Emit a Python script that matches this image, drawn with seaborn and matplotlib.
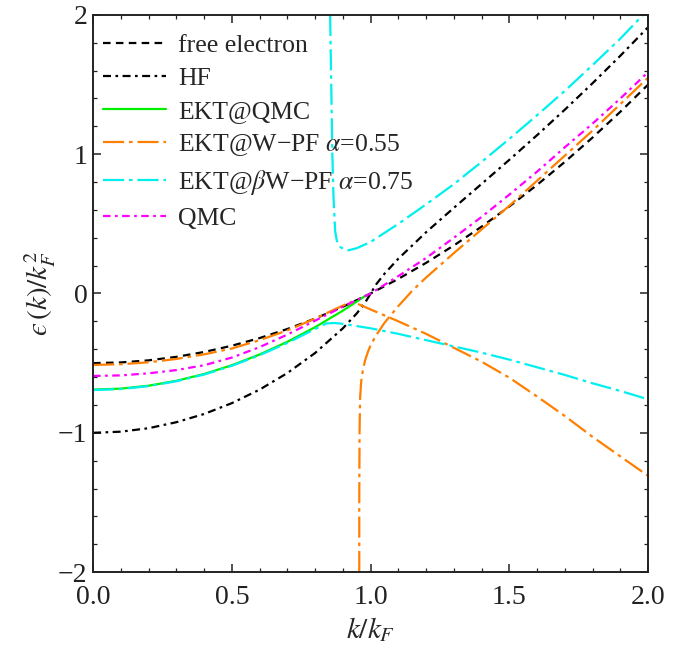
import numpy as np
import pandas as pd
import matplotlib
matplotlib.use("Agg")
import matplotlib.pyplot as plt
import seaborn as sns

# ---------------- data ----------------
k_free = [0.0, 0.1, 0.2, 0.3, 0.4, 0.5, 0.6, 0.7, 0.8, 0.9, 1.0,
          1.1, 1.2, 1.3, 1.4, 1.5, 1.6, 1.7, 1.8, 1.9, 2.0]
e_free = [-0.5, -0.495, -0.48, -0.455, -0.42, -0.375, -0.32, -0.255, -0.18, -0.095, 0.0,
          0.105, 0.22, 0.345, 0.48, 0.625, 0.78, 0.945, 1.12, 1.305, 1.5]

k_hf = [0.0, 0.1, 0.2, 0.3, 0.4, 0.5, 0.6, 0.7, 0.8, 0.9, 0.95, 0.98, 1.0,
        1.02, 1.05, 1.1, 1.2, 1.3, 1.4, 1.5, 1.6, 1.7, 1.8, 1.9, 2.0]
e_hf = [-1.0, -0.992, -0.967, -0.924, -0.865, -0.787, -0.69, -0.571, -0.427, -0.25, -0.143, -0.066, 0.0,
        0.066, 0.142, 0.25, 0.44, 0.615, 0.787, 0.96, 1.137, 1.32, 1.51, 1.707, 1.912]

k_ektqmc = [0.0, 0.1, 0.2, 0.3, 0.4, 0.5, 0.6, 0.7, 0.8, 0.9, 0.95, 0.985]
e_ektqmc = [-0.69, -0.683, -0.662, -0.627, -0.578, -0.515, -0.438, -0.347, -0.242, -0.123, -0.058, -0.011]

k_wpf_a = [0.0, 0.1, 0.2, 0.3, 0.4, 0.5, 0.6, 0.7, 0.8, 0.88, 0.93, 0.96, 1.0,
           1.1, 1.2, 1.3, 1.4, 1.5, 1.6, 1.7, 1.8, 1.9, 2.0]
e_wpf_a = [-0.513, -0.508, -0.494, -0.47, -0.437, -0.395, -0.335, -0.265, -0.18, -0.105, -0.06, -0.08, -0.115,
           -0.2, -0.29, -0.39, -0.49, -0.605, -0.74, -0.88, -1.03, -1.17, -1.31]
k_wpf_b = [0.959, 0.959, 0.960, 0.962, 0.966, 0.972, 0.98, 0.99, 1.0, 1.02, 1.05, 1.1, 1.15,
           1.2, 1.3, 1.4, 1.5, 1.6, 1.7, 1.8, 1.9, 2.0]
e_wpf_b = [-2.0, -1.5, -1.0, -0.75, -0.63, -0.55, -0.48, -0.42, -0.37, -0.30, -0.21, -0.09, 0.02,
           0.115, 0.29, 0.46, 0.63, 0.81, 0.99, 1.17, 1.36, 1.55]

k_bwpf_a = [0.0, 0.1, 0.2, 0.3, 0.4, 0.5, 0.6, 0.7, 0.75, 0.8, 0.84, 0.87, 0.9,
            1.0, 1.1, 1.2, 1.3, 1.4, 1.5, 1.6, 1.7, 1.8, 1.9, 2.0]
e_bwpf_a = [-0.693, -0.686, -0.665, -0.630, -0.582, -0.519, -0.443, -0.355, -0.305, -0.255, -0.215, -0.212, -0.218,
            -0.25, -0.29, -0.335, -0.38, -0.425, -0.475, -0.53, -0.585, -0.645, -0.70, -0.76]
k_bwpf_b = [0.854, 0.858, 0.862, 0.866, 0.872, 0.878, 0.89, 0.905, 0.92, 0.95, 1.0,
            1.1, 1.2, 1.3, 1.4, 1.5, 1.6, 1.7, 1.8, 1.9, 1.977, 2.0]
e_bwpf_b = [2.0, 1.5, 1.0, 0.7, 0.45, 0.38, 0.335, 0.315, 0.31, 0.325, 0.37,
            0.50, 0.64, 0.785, 0.945, 1.11, 1.28, 1.455, 1.64, 1.83, 1.99, 2.04]

k_qmc = [0.0, 0.1, 0.2, 0.3, 0.4, 0.5, 0.6, 0.7, 0.8, 0.9, 1.0,
         1.1, 1.2, 1.3, 1.4, 1.5, 1.6, 1.7, 1.8, 1.9, 2.0]
e_qmc = [-0.592, -0.588, -0.573, -0.55, -0.515, -0.46, -0.385, -0.295, -0.195, -0.095, 0.0,
         0.125, 0.255, 0.40, 0.55, 0.71, 0.875, 1.05, 1.22, 1.40, 1.59]

labels = ["free electron", "HF", "EKT@QMC",
          "EKT@W\u2212PF $\\alpha$=0.55",
          "EKT@$\\beta$W\u2212PF $\\alpha$=0.75",
          "QMC"]
x_ticks = [0.0, 0.5, 1.0, 1.5, 2.0]
x_ticklabels = ["0.0", "0.5", "1.0", "1.5", "2.0"]
y_ticks = [-2, -1, 0, 1, 2]
y_ticklabels = ["\u22122", "\u22121", "0", "1", "2"]

# ---------------- style ----------------
sns.set_theme(style="ticks")
plt.rcParams.update({
    "font.family": ["Liberation Serif", "DejaVu Serif"],
    "mathtext.fontset": "stix",
    "axes.linewidth": 1.4,
    "xtick.direction": "in", "ytick.direction": "in",
    "xtick.top": True, "ytick.right": True,
    "xtick.major.size": 6, "ytick.major.size": 6,
    "xtick.minor.size": 3, "ytick.minor.size": 3,
    "xtick.major.width": 1.1, "ytick.major.width": 1.1,
    "xtick.minor.width": 0.9, "ytick.minor.width": 0.9,
    "xtick.color": "#222222", "ytick.color": "#222222",
    "axes.edgecolor": "#222222",
})

fig = plt.figure(figsize=(7.0, 6.45), dpi=100)
ax = fig.add_axes([0.133, 0.113, 0.793, 0.864])

lw = 1.6
ls_free = (0, (3.4, 2.4))
ls_hf = (0, (3.6, 2.0, 1.2, 2.0))
ls_long = (0, (9.5, 2.2, 1.6, 2.2))
ls_qmc = (0, (3.4, 2.0, 1.2, 2.0))

c_orange = "#ff8000"
c_cyan = "#00f0f0"
c_green = "#00ee00"
c_mag = "#ff00ff"

def draw(k, e, color, ls, label=None):
    df = pd.DataFrame({"k": k, "e": e})
    sns.lineplot(data=df, x="k", y="e", ax=ax, color=color, linestyle=ls,
                 linewidth=lw, sort=False, estimator=None, label=label)

draw(k_free, e_free, "black", ls_free, labels[0])
draw(k_hf, e_hf, "black", ls_hf, labels[1])
draw(k_ektqmc, e_ektqmc, c_green, "-", labels[2])
draw(k_wpf_a, e_wpf_a, c_orange, ls_long, labels[3])
draw(k_wpf_b, e_wpf_b, c_orange, ls_long)
draw(k_bwpf_a, e_bwpf_a, c_cyan, ls_long, labels[4])
draw(k_bwpf_b, e_bwpf_b, c_cyan, ls_long)
draw(k_qmc, e_qmc, c_mag, ls_qmc, labels[5])

ax.set_xlim(0, 2)
ax.set_ylim(-2, 2)
ax.set_xticks(x_ticks)
ax.set_xticklabels(x_ticklabels)
ax.set_yticks(y_ticks)
ax.set_yticklabels(y_ticklabels)
ax.set_xticks(np.arange(0, 2.001, 0.1), minor=True)
ax.set_yticks(np.arange(-2, 2.001, 0.2), minor=True)
ax.tick_params(axis="x", labelsize=20, pad=9)
ax.tick_params(axis="y", labelsize=20, pad=4)
ax.set_xlabel(r"$k/k_F$", fontsize=21, labelpad=4)
ax.set_ylabel("$\u03f5\\,(k)/k_F^2$", fontsize=21, labelpad=0)

leg = ax.legend(loc="upper left", frameon=False, fontsize=18.5,
                handlelength=2.45, handletextpad=0.45, labelspacing=0.38,
                borderaxespad=0.45, borderpad=0.3,
                bbox_to_anchor=(-0.016, 1.0))

fig.savefig("out.png", dpi=100)
